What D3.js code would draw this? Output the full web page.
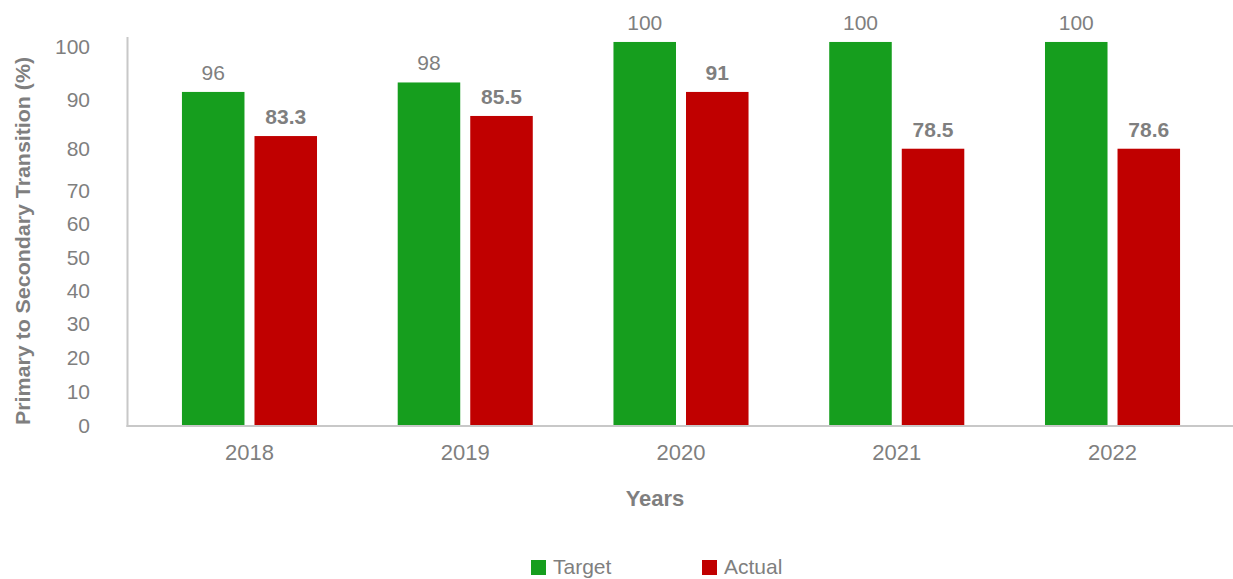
<!DOCTYPE html>
<html>
<head>
<meta charset="utf-8">
<script src="https://cdn.jsdelivr.net/npm/d3@7"></script>
<style>
  body { margin: 0; background: #fff; }
  text { font-family: "Liberation Sans", Arial, sans-serif; fill: #7f7f7f; }
</style>
</head>
<body>
<div id="chart"></div>
<script>
// data
const years = ["2018", "2019", "2020", "2021", "2022"];
// bar heights as drawn against the axis
const target = [91.4, 93.2, 100.9, 100.9, 100.9];
const actual = [82.5, 86.6, 91.4, 79.9, 79.9];
// value labels printed over the bars
const targetLabels = ["96", "98", "100", "100", "100"];
const actualLabels = ["83.3", "85.5", "91", "78.5", "78.6"];
const yTicks = [0, 10, 20, 30, 40, 50, 60, 70, 80, 90, 100];
// the axis in the picture is not evenly spaced, so the scale is piecewise
const yTickPos = [426, 391.3, 358, 324, 290.7, 257.3, 224, 190.7, 148.3, 99.3, 46.7];

const W = 1233, H = 579;
const green = "#169e1e", red = "#c00000";

const svg = d3.select("#chart").append("svg")
    .attr("width", W)
    .attr("height", H);

const x = d3.scaleBand()
    .domain(years)
    .range([141.6, 1220.4])
    .paddingInner(0.374)
    .paddingOuter(0.187);

const xSub = d3.scaleBand()
    .domain(["Target", "Actual"])
    .range([0, x.bandwidth()])
    .paddingInner(0.138);

const y = d3.scaleLinear()
    .domain(yTicks)
    .range(yTickPos);

// bars
const rows = years.map((yr, i) => ({ year: yr, i }));
const groups = svg.selectAll("g.year")
    .data(rows)
    .join("g")
    .attr("class", "year")
    .attr("transform", d => `translate(${x(d.year)},0)`);

groups.append("rect")
    .attr("x", xSub("Target"))
    .attr("y", d => y(target[d.i]))
    .attr("width", xSub.bandwidth())
    .attr("height", d => y(0) - y(target[d.i]))
    .attr("fill", green);

groups.append("rect")
    .attr("x", xSub("Actual"))
    .attr("y", d => y(actual[d.i]))
    .attr("width", xSub.bandwidth())
    .attr("height", d => y(0) - y(actual[d.i]))
    .attr("fill", red);

// value labels
groups.append("text")
    .attr("x", xSub("Target") + xSub.bandwidth() / 2)
    .attr("y", d => y(target[d.i]) - 12)
    .attr("text-anchor", "middle")
    .style("font-size", "21px")
    .text(d => targetLabels[d.i]);

groups.append("text")
    .attr("x", xSub("Actual") + xSub.bandwidth() / 2)
    .attr("y", d => y(actual[d.i]) - 12)
    .attr("text-anchor", "middle")
    .style("font-size", "21px")
    .style("font-weight", "bold")
    .text(d => actualLabels[d.i]);

// y axis (labels only, line drawn below)
const yAxis = svg.append("g")
    .attr("transform", "translate(90,0)")
    .call(d3.axisLeft(y).tickValues(yTicks).tickSize(0).tickPadding(0));
yAxis.select(".domain").remove();
yAxis.selectAll("text")
    .style("font-size", "21px")
    .style("font-family", null)
    .attr("fill", null);

// x axis labels
const xAxis = svg.append("g")
    .attr("transform", "translate(0,444)")
    .call(d3.axisBottom(x).tickSize(0).tickPadding(0));
xAxis.select(".domain").remove();
xAxis.selectAll("text")
    .style("font-size", "22px")
    .attr("fill", null);

// axis lines
svg.append("line")
    .attr("x1", 127.5).attr("x2", 127.5)
    .attr("y1", 37).attr("y2", 427)
    .attr("stroke", "#c8c8c8").attr("stroke-width", 2);
svg.append("line")
    .attr("x1", 126.5).attr("x2", W)
    .attr("y1", 426).attr("y2", 426)
    .attr("stroke", "#c8c8c8").attr("stroke-width", 2);

// axis titles
svg.append("text")
    .attr("x", 655)
    .attr("y", 506)
    .attr("text-anchor", "middle")
    .style("font-size", "22px")
    .style("font-weight", "bold")
    .text("Years");

svg.append("text")
    .attr("transform", "translate(30,241) rotate(-90)")
    .attr("text-anchor", "middle")
    .style("font-size", "20px")
    .style("font-weight", "bold")
    .attr("textLength", 368)
    .attr("lengthAdjust", "spacingAndGlyphs")
    .text("Primary to Secondary Transition (%)");

// legend
const legendItems = [
    { name: "Target", color: green, x: 531 },
    { name: "Actual", color: red, x: 702 }
];
const legend = svg.selectAll("g.legend")
    .data(legendItems)
    .join("g")
    .attr("class", "legend")
    .attr("transform", d => `translate(${d.x},560)`);
legend.append("rect")
    .attr("width", 15).attr("height", 15)
    .attr("fill", d => d.color);
legend.append("text")
    .attr("x", 22)
    .attr("y", 14)
    .style("font-size", "21px")
    .text(d => d.name);
</script>
</body>
</html>
